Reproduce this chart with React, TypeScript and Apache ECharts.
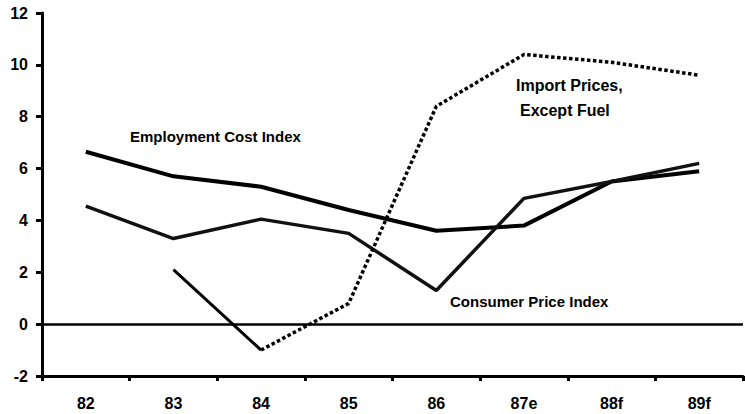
import React, { useEffect, useRef } from "react";
import * as echarts from "echarts";

const categories = ["82", "83", "84", "85", "86", "87e", "88f", "89f"];
const employmentCost = [6.65, 5.7, 5.3, 4.4, 3.6, 3.8, 5.5, 5.9];
const consumerPrice = [4.55, 3.3, 4.05, 3.5, 1.3, 4.85, 5.5, 6.2];
const importSolid = [null, 2.1, -1.0, null, null, null, null, null];
const importDotted = [null, null, -1.0, 0.8, 8.4, 10.4, 10.1, 9.6];
const yTicks = { min: -2, max: 12, interval: 2 };

const FONT = '"Liberation Sans", Arial, Helvetica, sans-serif';

export default function App() {
  const ref = useRef<HTMLDivElement>(null);
  useEffect(() => {
    if (!ref.current) return;
    const chart = echarts.init(ref.current, null, { renderer: "svg" });
    chart.setOption({
      animation: false,
      backgroundColor: "#fff",
      grid: { left: 42, right: 2, top: 13, bottom: 38 },
      xAxis: {
        type: "category",
        data: categories,
        boundaryGap: true,
        axisLine: { onZero: false, lineStyle: { color: "#000", width: 3 } },
        axisTick: { show: true, length: 5, inside: false, lineStyle: { color: "#000", width: 3 } },
        axisLabel: { color: "#000", fontFamily: FONT, fontWeight: "bold", fontSize: 16, margin: 19 },
        splitLine: { show: false },
      },
      yAxis: {
        type: "value",
        min: yTicks.min,
        max: yTicks.max,
        interval: yTicks.interval,
        axisLine: { show: true, lineStyle: { color: "#000", width: 3 } },
        axisTick: { show: true, length: 6, lineStyle: { color: "#000", width: 3 } },
        axisLabel: { color: "#000", fontFamily: FONT, fontWeight: "bold", fontSize: 16, margin: 14 },
        splitLine: { show: false },
      },
      series: [
        {
          name: "Employment Cost Index",
          type: "line",
          data: employmentCost,
          symbol: "none",
          lineStyle: { color: "#000", width: 4 },
          markLine: {
            silent: true,
            symbol: "none",
            label: { show: false },
            lineStyle: { color: "#000", width: 2.5, type: "solid" },
            data: [{ yAxis: 0 }],
          },
        },
        {
          name: "Consumer Price Index",
          type: "line",
          data: consumerPrice,
          symbol: "none",
          lineStyle: { color: "#111", width: 3.5 },
        },
        {
          name: "Import Prices solid",
          type: "line",
          data: importSolid,
          symbol: "none",
          connectNulls: false,
          lineStyle: { color: "#000", width: 3 },
        },
        {
          name: "Import Prices, Except Fuel",
          type: "line",
          data: importDotted,
          symbol: "none",
          connectNulls: false,
          lineStyle: { color: "#000", width: 3.5, type: [3.5, 2.5] },
        },
      ],
      graphic: [
        {
          type: "text",
          left: 130,
          top: 129,
          style: { text: "Employment Cost Index", fill: "#000", font: `bold 15px ${FONT}` },
        },
        {
          type: "text",
          left: 516,
          top: 77,
          style: { text: "Import Prices,", fill: "#000", font: `bold 16px ${FONT}` },
        },
        {
          type: "text",
          left: 520,
          top: 102,
          style: { text: "Except Fuel", fill: "#000", font: `bold 16px ${FONT}` },
        },
        {
          type: "text",
          left: 450,
          top: 294,
          style: { text: "Consumer Price Index", fill: "#000", font: `bold 15px ${FONT}` },
        },
      ],
    });
    return () => chart.dispose();
  }, []);
  return <div ref={ref} style={{ width: 745, height: 414, position: "absolute", left: 0, top: 0 }} />;
}
